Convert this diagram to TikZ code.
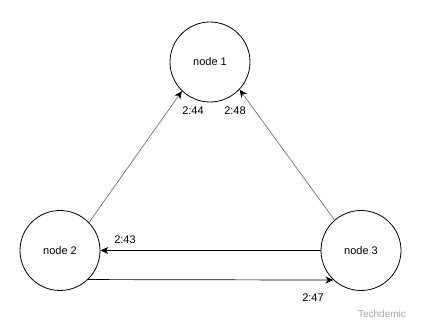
\documentclass[tikz,border=0pt]{standalone}
\usepackage{fontspec}
\setmainfont{Liberation Sans}
\usetikzlibrary{arrows.meta}
\begin{document}
\begin{tikzpicture}[x=1pt,y=-1pt,
  state/.style={draw,circle,minimum size=80pt,inner sep=0pt,line width=0.8pt,font=\fontsize{11}{13}\selectfont},
  conn/.style={-{Stealth[length=8pt,width=7pt,inset=2.5pt,color=black]},line width=0.7pt},
  lbl/.style={font=\fontsize{11}{13}\selectfont,inner sep=0pt}]
\useasboundingbox (0,0) rectangle (421,331);
\node[state] (n1) at (210,62) {node 1};
\node[state] (n2) at (60,250.5) {node 2};
\node[state] (n3) at (361,250.5) {node 3};
\draw[conn,draw=black!55] (n2.44) -- (n1.226);
\draw[conn,draw=black!55] (n3.131) -- (n1.317);
\draw[conn] (n3.west) -- (n2.east);
\draw[conn] (n2.-46.5) -- (n3.-133.5);
\node[lbl] (l44) at (193,111) {2:44};
\node[lbl] (l48) at (235,111) {2:48};
\node[lbl] (l43) at (125,240) {2:43};
\node[lbl] (l47) at (313,298) {2:47};
\node[font=\fontsize{10}{12}\selectfont,text=black!35,inner sep=0pt] (wm) at (382,314) {Techdemic};
\end{tikzpicture}
\end{document}
